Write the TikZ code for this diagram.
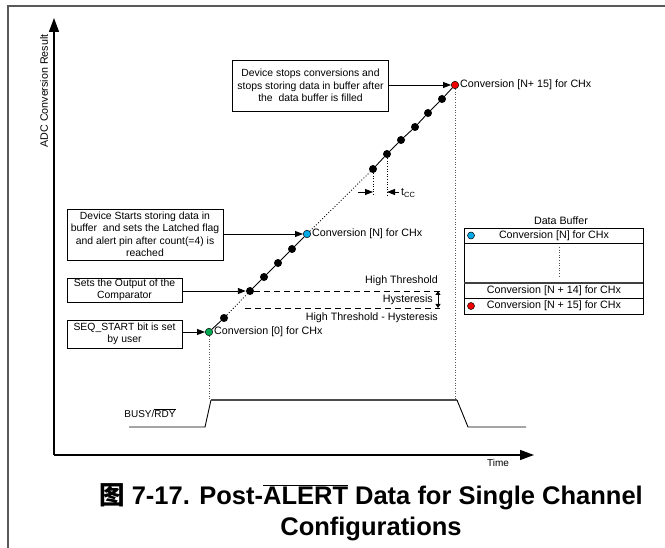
\documentclass[tikz,border=0pt]{standalone}
\usepackage{fontspec}
\setmainfont{Liberation Sans}
\newfontfamily\cjkfont{Noto Sans CJK SC}
\usetikzlibrary{arrows.meta}
\newcommand\ovl[1]{$\overline{\hbox{#1}}$}
\definecolor{dgreen}{RGB}{0,170,80}
\definecolor{dblue}{RGB}{0,170,230}
\definecolor{dred}{RGB}{240,0,0}
\begin{document}
\begin{tikzpicture}[x=1pt,y=-1pt,
  lbl/.style={font=\fontsize{10.7}{12.5}\selectfont, inner sep=0pt},
  small/.style={font=\fontsize{10}{12}\selectfont, inner sep=0pt},
  box/.style={draw, line width=0.9pt, align=center, inner xsep=1pt, inner ysep=0pt,
    font=\fontsize{10.4}{12.5}\selectfont},
  dot/.style={circle, fill=black, inner sep=0pt, minimum size=8pt},
  cdot/.style={circle, draw=black, line width=0.5pt, inner sep=0pt, minimum size=7.5pt},
  arr/.style={-{Triangle[length=8pt,width=6pt]}, line width=0.9pt},
  ln/.style={line width=0.9pt},
  dln/.style={line width=0.9pt, dotted},
  thr/.style={line width=0.9pt, dash pattern=on 6pt off 4pt},
  axis/.style={line width=1.3pt, -{Triangle[length=14pt,width=10pt]}},
  captext/.style={font=\fontsize{25.5}{30}\selectfont\bfseries, inner sep=0pt, anchor=base}
]
\useasboundingbox (0,0) rectangle (665,548);
% frame
\draw[gray!70!black, line width=1.3pt] (8,548) -- (8,6) -- (665,6);

% axes
\coordinate (O) at (54,455);
\coordinate (Ytip) at (54,18);
\coordinate (Xtip) at (534,455);
\draw[axis] (O) -- (Ytip);
\draw[axis] (O) -- (Xtip);
\node[lbl, rotate=90] (ylab) at (44,91) {ADC Conversion Result};
\node[small] (time) at (498,463) {Time};

% boxes
\node[box, minimum width=156pt, minimum height=51pt] (b1) at (310.5,85.5)
  {Device stops conversions and\\stops storing data in buffer after\\the\ \ data buffer is filled};
\node[box, minimum width=156pt, minimum height=51pt] (b2) at (145,234.5)
  {Device Starts storing data in\\buffer\ \ and sets the Latched flag\\and alert pin after count(=4) is\\reached};
\node[box, minimum width=115pt, minimum height=24pt] (b3) at (124.5,290)
  {Sets the Output of the\\Comparator};
\node[box, minimum width=115pt, minimum height=28pt] (b4) at (124.5,334)
  {SEQ\_START bit is set\\by user};

% conversion points
\node[cdot, fill=dgreen] (g) at (209,332) {};
\node[dot] (d1) at (224,318) {};
\node[dot] (th) at (250,291) {};
\node[dot] (d3) at (264,277) {};
\node[dot] (d4) at (278,263) {};
\node[dot] (d5) at (292,249) {};
\node[cdot, fill=dblue] (bl) at (307,234) {};
\node[dot] (e1) at (373,169) {};
\node[dot] (e2) at (387,154) {};
\node[dot] (e3) at (401,140) {};
\node[dot] (e4) at (415,127) {};
\node[dot] (e5) at (428,113) {};
\node[dot] (e6) at (442,99) {};
\node[cdot, fill=dred] (rd) at (455,85) {};

\draw[ln] (g) -- (d1);
\draw[dln] (d1) -- (th);
\draw[ln] (th) -- (d3) -- (d4) -- (d5) -- (bl);
\draw[dln] (bl) -- (e1);
\draw[ln] (e1) -- (e2) -- (e3) -- (e4) -- (e5) -- (e6) -- (rd);

\node[lbl, anchor=west] (lg) at ([xshift=1pt]g.east) {Conversion [0] for CHx};
\node[lbl, anchor=west] (lb) at ([xshift=1pt]bl.east) {Conversion [N] for CHx};
\node[lbl, anchor=west] (lr) at ([xshift=1pt]rd.east) {Conversion [N+ 15] for CHx};

% box arrows
\draw[arr] (b1.east |- rd) -- (rd);
\draw[arr] (b2.east |- bl) -- (bl);
\draw[arr] (b3.east |- th) -- (th);
\draw[arr] (b4.east |- g) -- (g);

% tcc
\coordinate (tv) at (0,196);
\coordinate (ta) at (358,192);
\coordinate (tb) at (399,192);
\draw[line width=0.6pt, dotted] (e1) -- (e1 |- tv);
\draw[line width=0.6pt, dotted] (e2) -- (e2 |- tv);
\draw[arr] (ta) -- (e1 |- ta);
\draw[arr] (tb) -- (e2 |- tb);
\node[lbl, anchor=west] (tcc) at (401,193) {t\textsubscript{CC}};

% thresholds
\coordinate (hte) at (440,291);
\coordinate (hls) at (245,308);
\coordinate (hle) at (440,308);
\draw[thr] (th) -- (hte);
\draw[thr] (hls) -- (hle);
\coordinate (ha) at (438,291);
\coordinate (hb) at (438,308);
\draw[line width=0.9pt, {Triangle[length=4pt,width=5pt]}-{Triangle[length=4pt,width=5pt]}] (ha) -- (hb);
\node[lbl, anchor=east] (lht) at (438,281) {High Threshold};
\node[lbl, anchor=east] (lhy) at (433,300) {Hysteresis};
\node[lbl, anchor=east] (lhh) at (438,318) {High Threshold - Hysteresis};

% data buffer
\node[lbl] (dbt) at (561,221) {Data Buffer};
\draw[line width=0.9pt] (464,228) rectangle (643,314);
\draw[line width=0.9pt] (464,243) -- (643,243);
\draw[line width=1.1pt, gray!50!black] (464,283) -- (643,283);
\draw[line width=0.9pt] (464,298) -- (643,298);
\node[lbl] (r1) at (554,235.5) {Conversion [N] for CHx};
\node[lbl] (r3) at (554,290.5) {Conversion [N + 14] for CHx};
\node[lbl] (r4) at (554,306) {Conversion [N + 15] for CHx};
\node[cdot, fill=dblue, minimum size=7pt] (bd1) at (471,235.5) {};
\node[cdot, fill=dred, minimum size=7pt] (bd4) at (471,306) {};
\draw[line width=0.6pt, dotted, gray!60!black] (559,247) -- (559,278);

% BUSY/RDY
\node[small] (busy) at (150,413) {BUSY/\ovl{RDY}};
\coordinate (bz) at (0,400);
\draw[line width=0.6pt, dotted, gray!70!black] (g) -- (g |- bz);
\draw[line width=0.6pt, dotted, gray!70!black] (rd) -- (rd |- bz);
\draw[ln] (129,427) -- (205,427) -- (211,400);
\draw[line width=1.3pt, gray!60!black] (211,400) -- (457,400);
\draw[ln] (457,400) -- (468,427) -- (526,427);

% caption
\node[captext] (cap1) at (371,504)
  {{\cjkfont\bfseries 图} 7-17. Post-\ovl{ALERT} Data for Single Channel};
\node[captext] (cap2) at (371,535)
  {Configurations};
\end{tikzpicture}
\end{document}
